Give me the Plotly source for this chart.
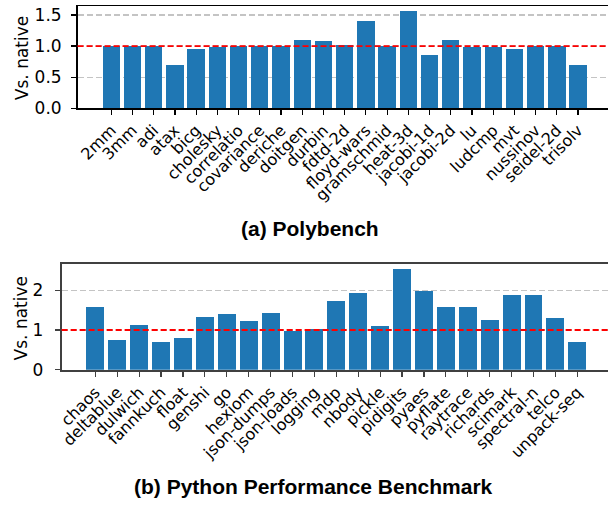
import plotly.graph_objects as go

W, H = 608, 510

poly_names = ["2mm", "3mm", "adi", "atax", "bicg", "cholesky", "correlatio", "covariance",
              "deriche", "doitgen", "durbin", "fdtd-2d", "floyd-wars", "gramschmid", "heat-3d",
              "jacobi-1d", "jacobi-2d", "lu", "ludcmp", "mvt", "nussinov", "seidel-2d", "trisolv"]
poly_vals = [1.0, 1.0, 1.0, 0.70, 0.95, 0.99, 1.0, 1.0, 1.0, 1.10, 1.085, 1.02, 1.40, 1.0, 1.56,
             0.85, 1.10, 0.99, 0.99, 0.96, 1.0, 1.0, 0.69]

py_names = ["chaos", "deltablue", "dulwich", "fannkuch", "float", "genshi", "go", "hexiom",
            "json-dumps", "json-loads", "logging", "mdp", "nbody", "pickle", "pidigits", "pyaes",
            "pyflate", "raytrace", "richards", "scimark", "spectral-n", "telco", "unpack-seq"]
py_vals = [1.57, 0.76, 1.13, 0.71, 0.81, 1.33, 1.40, 1.23, 1.43, 0.98, 1.03, 1.72, 1.92, 1.11,
           2.53, 1.97, 1.57, 1.57, 1.25, 1.87, 1.87, 1.30, 0.71]

poly_yticks = [0.0, 0.5, 1.0, 1.5]
py_yticks = [0, 1, 2]
baseline = 1.0

titles = ["(a) Polybench", "(b) Python Performance Benchmark"]
ylabel = "Vs. native"

BAR = "#1f77b4"
TICKFONT = dict(family="DejaVu Sans", size=16, color="black")

fig = go.Figure()
fig.add_trace(go.Bar(x=poly_names, y=poly_vals, marker=dict(color=BAR, line=dict(width=0)),
                     width=0.82, xaxis="x", yaxis="y", showlegend=False, hoverinfo="skip"))
fig.add_trace(go.Bar(x=py_names, y=py_vals, marker=dict(color=BAR, line=dict(width=0)),
                     width=0.82, xaxis="x2", yaxis="y2", showlegend=False, hoverinfo="skip"))

def px_x(p):
    return p / W

def px_y(p):
    return (H - p) / H

grid = dict(showgrid=True, gridcolor="#c4c4c4", gridwidth=1.2, griddash="6px,3px")

fig.update_layout(
    width=W, height=H,
    margin=dict(l=0, r=0, t=0, b=0),
    plot_bgcolor="white", paper_bgcolor="white",
    bargap=0,
    hovermode=False,
    xaxis=dict(domain=[px_x(74), 1.0], anchor="y", type="category",
               range=[-1.59, 23.41], showline=True, linecolor="black", linewidth=1.5,
               mirror=True, ticks="outside", ticklen=5, tickwidth=1.2, tickcolor="black",
               tickangle=-45, tickfont=TICKFONT, showgrid=False, zeroline=False),
    yaxis=dict(domain=[px_y(109.5), px_y(5.5)], anchor="x", range=[0, 1.64],
               tickvals=poly_yticks, tickformat=".1f", showline=True, linecolor="black",
               linewidth=1.5, ticks="outside", ticklen=5, tickwidth=1.2, tickcolor="black",
               ticklabelstandoff=6,
               tickfont=dict(family="DejaVu Sans", size=17, color="black"),
               zeroline=False, **grid),
    xaxis2=dict(domain=[px_x(58), 1.0], anchor="y2", type="category",
                range=[-1.54, 23.4], showline=True, linecolor="#404040", linewidth=1.8,
                mirror=True, ticks="outside", ticklen=5, tickwidth=1.2, tickcolor="#404040",
                tickangle=-45, tickfont=TICKFONT, showgrid=False, zeroline=False),
    yaxis2=dict(domain=[px_y(377), px_y(269)], anchor="x2", range=[0, 2.65],
                tickvals=py_yticks, showline=True, linecolor="#404040", linewidth=1.8,
                ticks="outside", ticklen=5, tickwidth=1.2, tickcolor="#404040",
                ticklabelstandoff=8,
                tickfont=dict(family="DejaVu Sans", size=17, color="black"),
                zeroline=False, **grid),
)

for xr, yr in (("x", "y"), ("x2", "y2")):
    fig.add_shape(type="line", xref=f"{xr} domain", yref=yr, x0=0, x1=1, y0=baseline, y1=baseline,
                  line=dict(color="red", width=1.8, dash="6px,3px"), layer="above")

fig.add_annotation(text=titles[0], x=px_x(308.5), y=px_y(233), xref="paper", yref="paper",
                   xanchor="center", yanchor="middle", showarrow=False,
                   font=dict(family="Liberation Sans", size=21, color="black", weight="bold"))
fig.add_annotation(text=titles[1], x=px_x(312), y=px_y(496), xref="paper", yref="paper",
                   xanchor="center", yanchor="middle", showarrow=False,
                   font=dict(family="Liberation Sans", size=21, color="black", weight="bold"))

for cy in (58, 324):
    fig.add_annotation(text=ylabel, x=px_x(17.5), y=px_y(cy), xref="paper", yref="paper",
                       xanchor="center", yanchor="middle", textangle=-90, showarrow=False,
                       font=dict(family="DejaVu Sans", size=17, color="black"))

fig.write_html("out.html",
               config={"displayModeBar": False, "staticPlot": True},
               post_script="document.body.style.margin='0';document.body.style.overflow='hidden';")
